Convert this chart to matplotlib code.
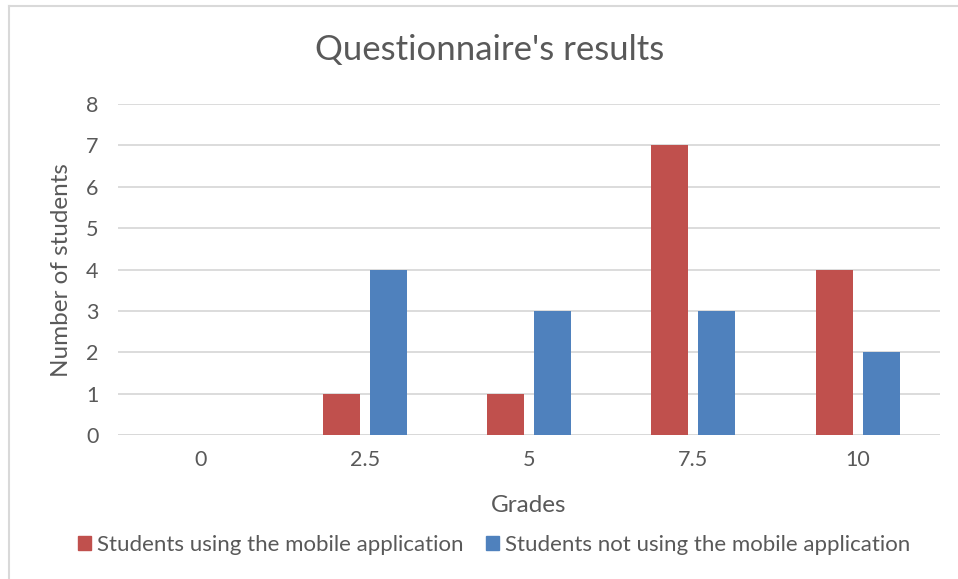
import matplotlib
matplotlib.use("Agg")
import matplotlib.pyplot as plt
import numpy as np
from matplotlib.lines import Line2D

plt.rcParams['font.family'] = ['Lato', 'DejaVu Sans']

grades = ["0", "2.5", "5", "7.5", "10"]
using_app = [0, 1, 1, 7, 4]
not_using_app = [0, 4, 3, 3, 2]
series_names = ["Students using the mobile application",
                "Students not using the mobile application"]
title = "Questionnaire's results"
xlabel = "Grades"
ylabel = "Number of students"

red = "#C0504D"
blue = "#4F81BD"
text_col = "#595959"
grid_col = "#D9D9D9"

W, H = 958, 579
fig = plt.figure(figsize=(W/100, H/100), dpi=100)
ax = fig.add_axes([118/W, 1-435/H, (940-118)/W, (435-104)/H])

x = np.arange(len(grades))
bw = 0.225
off = 0.143
ax.bar(x - off, using_app, bw, color=red, label=series_names[0], zorder=3)
ax.bar(x + off, not_using_app, bw, color=blue, label=series_names[1], zorder=3)

ax.set_xlim(-0.5, len(grades) - 0.5)
ax.set_ylim(0, 8)
ax.set_yticks(range(0, 9))
ax.set_xticks(x)
ax.set_xticklabels(grades)
ax.yaxis.grid(True, color=grid_col, linewidth=1.3, zorder=0)
for s in ax.spines.values():
    s.set_visible(False)
ax.axhline(0, color=grid_col, linewidth=1.3, zorder=2)
ax.tick_params(axis='both', length=0, labelsize=15.5, colors=text_col)
ax.tick_params(axis='y', pad=14)
ax.tick_params(axis='x', pad=11)

fig.text(490/W, 1-50/H, title, ha='center', va='center', fontsize=25, color=text_col)
fig.text(529/W, 1-505/H, xlabel, ha='center', va='center', fontsize=17.5, color=text_col)
fig.text(62/W, 1-270/H, ylabel, ha='center', va='center', rotation=90, fontsize=17.5, color=text_col)

handles = [plt.Rectangle((0, 0), 1, 1, color=red), plt.Rectangle((0, 0), 1, 1, color=blue)]
fig.legend(handles, series_names, loc='center', bbox_to_anchor=(494/W, 1-545/H),
           ncol=2, frameon=False, fontsize=16, labelcolor=text_col,
           handlelength=0.6, handleheight=0.6, handletextpad=0.25, columnspacing=1.0)

# figure border (top and left visible)
fig.add_artist(Line2D([9/W, 1], [1-6/H, 1-6/H], color=grid_col, linewidth=1.5, transform=fig.transFigure))
fig.add_artist(Line2D([9/W, 9/W], [0, 1-6/H], color=grid_col, linewidth=1.5, transform=fig.transFigure))

fig.savefig("out.png", dpi=100)
